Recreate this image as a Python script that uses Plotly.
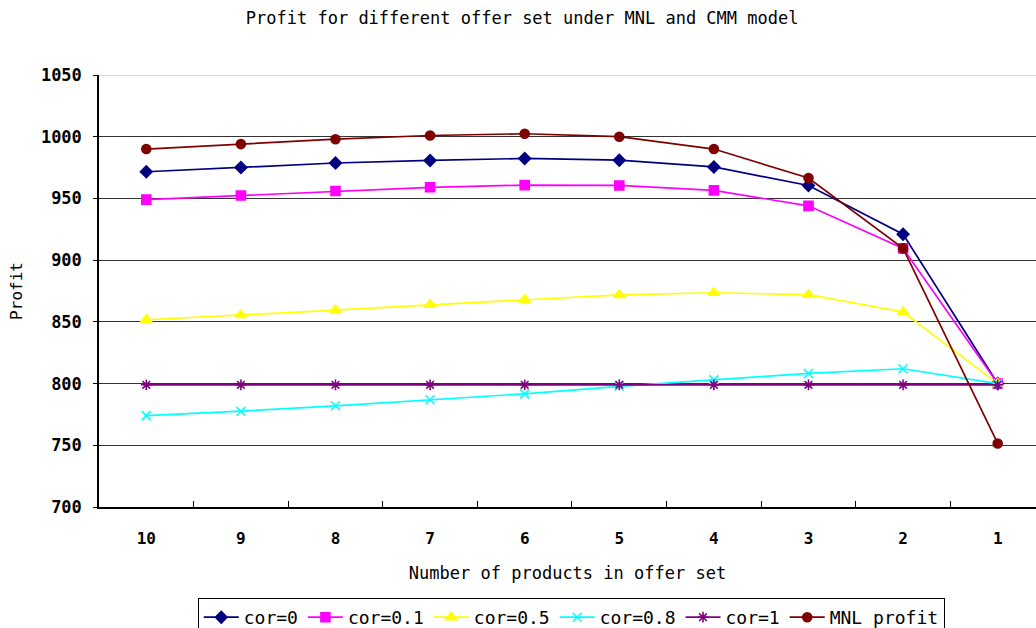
import plotly.graph_objects as go

# Offer set sizes (shown in descending order along the x axis)
products = ["10", "9", "8", "7", "6", "5", "4", "3", "2", "1"]

# Profit for each offer set size
cor_0 = [971.6, 975.0, 978.7, 980.8, 982.4, 981.0, 975.5, 960.5, 921.0, 800.0]
cor_01 = [949.0, 952.4, 956.0, 959.0, 960.8, 960.5, 956.5, 944.0, 909.5, 800.0]
cor_05 = [851.7, 855.5, 859.5, 863.8, 867.9, 871.8, 873.6, 872.0, 858.0, 800.0]
cor_08 = [774.0, 777.6, 782.0, 786.9, 791.7, 797.8, 803.0, 808.2, 812.0, 800.0]
cor_1 = [799.0, 799.0, 799.0, 799.0, 799.0, 799.0, 799.0, 799.0, 799.0, 799.0]
mnl = [990.0, 994.0, 998.0, 1001.0, 1002.4, 1000.0, 990.0, 966.5, 909.5, 751.5]

y_ticks = [700, 750, 800, 850, 900, 950, 1000, 1050]

FONT = "DejaVu Sans Mono"

series = [
    ("cor=0", cor_0, "#000080", "diamond", 9),
    ("cor=0.1", cor_01, "#FF00FF", "square", 9),
    ("cor=0.5", cor_05, "#FFFF00", "triangle-up", 10),
    ("cor=0.8", cor_08, "#00FFFF", "x-thin-open", 9),
    ("cor=1", cor_1, "#800080", "asterisk-open", 9),
    ("MNL profit", mnl, "#800000", "circle", 9),
]

fig = go.Figure()
for name, vals, color, symbol, size in series:
    fig.add_trace(go.Scatter(
        x=products, y=vals, name=name, mode="lines+markers",
        line=dict(color=color, width=1.7),
        marker=dict(symbol=symbol, size=size, color=color,
                    line=dict(color=color, width=1.6)),
    ))

# light top border of the plot area
fig.add_shape(type="line", xref="paper", x0=0, x1=1, yref="y", y0=1050, y1=1050,
              line=dict(color="#d9d9d9", width=2), layer="between")

fig.update_layout(
    width=1036, height=628,
    margin=dict(l=99, r=0, t=75, b=121),
    paper_bgcolor="white", plot_bgcolor="white",
    font=dict(family=FONT, color="black", size=14),
    title=dict(text="Profit for different offer set under MNL and CMM model",
               x=0.504, xref="container", y=0.972, yref="container",
               xanchor="center", yanchor="middle",
               font=dict(family=FONT, size=17, color="black")),
    xaxis=dict(
        type="category", range=[-0.5, 9.405],
        showgrid=False, showline=True, linecolor="black", linewidth=1.5,
        ticks="inside", ticklen=6, tickcolor="black", tickson="boundaries",
        ticklabelstandoff=16,
        tickfont=dict(family=FONT, size=16, weight="bold"),
        title=dict(text="Number of products in offer set", standoff=20,
                   font=dict(family=FONT, size=17)),
    ),
    yaxis=dict(
        range=[700, 1050], tickvals=y_ticks,
        showgrid=True, gridcolor="#333333", gridwidth=1.3,
        showline=True, linecolor="black", linewidth=1.5,
        ticks="outside", ticklen=4, tickcolor="black",
        ticklabelstandoff=8,
        tickfont=dict(family=FONT, size=17, weight="bold"),
        title=dict(text="Profit", standoff=14, font=dict(family=FONT, size=16)),
        zeroline=False,
    ),
    legend=dict(
        orientation="h", x=0.504, xanchor="center", xref="paper",
        y=1 - 598 / 628, yanchor="top", yref="container",
        bordercolor="black", borderwidth=1, bgcolor="white",
        font=dict(family=FONT, size=18),
        itemwidth=35, tracegroupgap=0,
    ),
)

fig.write_html("out.html")
